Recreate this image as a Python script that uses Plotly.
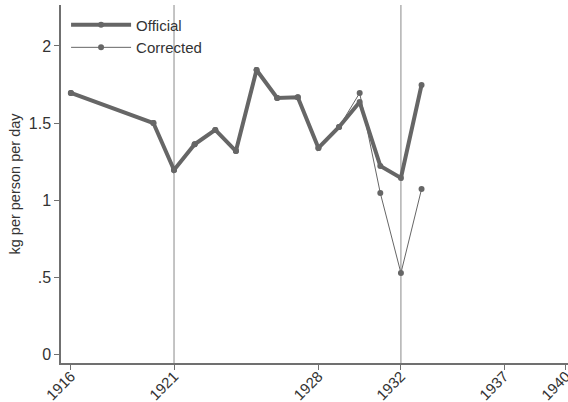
import plotly.graph_objects as go

# Annual series, kg per person per day
years = [1916, 1920, 1921, 1922, 1923, 1924, 1925, 1926, 1927, 1928, 1929, 1930, 1931, 1932, 1933]
official = [1.695, 1.50, 1.195, 1.362, 1.455, 1.318, 1.844, 1.662, 1.667, 1.338, 1.474, 1.636, 1.221, 1.143, 1.747]
corrected = [1.695, 1.50, 1.195, 1.362, 1.455, 1.318, 1.844, 1.662, 1.667, 1.338, 1.474, 1.695, 1.045, 0.526, 1.071]

x_ticks = [1916, 1921, 1928, 1932, 1937, 1940]
y_ticks = [0, 0.5, 1, 1.5, 2]
y_tick_text = ["0", ".5", "1", "1.5", "2"]
marker_years = [1921, 1932]

line_color = "#666666"
font_family = "Liberation Sans, Arial, sans-serif"

fig = go.Figure()
fig.add_trace(go.Scatter(
    x=years, y=official, name="Official", mode="lines+markers",
    line=dict(color=line_color, width=4),
    marker=dict(color=line_color, size=6),
))
fig.add_trace(go.Scatter(
    x=years, y=corrected, name="Corrected", mode="lines+markers",
    line=dict(color=line_color, width=1),
    marker=dict(color=line_color, size=6),
))

for yr in marker_years:
    fig.add_vline(x=yr, line=dict(color="#8a8a8a", width=1), layer="below")

axis_common = dict(
    showgrid=False, zeroline=False, showline=True, linecolor="#707070", linewidth=1.5,
    ticks="outside", ticklen=5, tickcolor="#707070", automargin=False,
    ticklabeloverflow="allow",
)

fig.update_layout(
    width=568, height=402,
    margin=dict(l=61, r=0, t=5, b=39),
    paper_bgcolor="white", plot_bgcolor="white",
    font=dict(family=font_family, color="#333333"),
    xaxis=dict(range=[1915.52, 1940.10], tickvals=x_ticks, tickangle=-45,
               ticklabelstandoff=-8,
               tickfont=dict(family=font_family, size=15, color="#333333"),
               **axis_common),
    yaxis=dict(range=[-0.058, 2.266], tickvals=y_ticks, ticktext=y_tick_text,
               tickfont=dict(family=font_family, size=16, color="#333333"),
               title=dict(text="kg per person per day", font=dict(size=14.5), standoff=5),
               **axis_common),
    legend=dict(x=0.01, y=0.99, xanchor="left", yanchor="top", bgcolor="rgba(0,0,0,0)",
                font=dict(size=15, color="#333333"), itemwidth=60, tracegroupgap=0),
    showlegend=True,
)

fig.write_html("out.html")
